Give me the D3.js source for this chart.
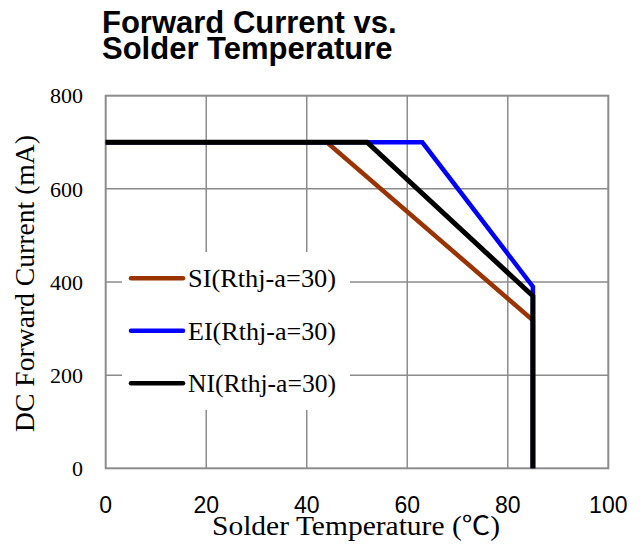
<!DOCTYPE html>
<html>
<head>
<meta charset="utf-8">
<script src="https://cdn.jsdelivr.net/npm/d3@7"></script>
<style>
  body { margin: 0; background: #fff; }
</style>
</head>
<body>
<svg id="my-svg" width="642" height="545"></svg>
<script>
// values
var seriesNames = ["SI(Rthj-a=30)", "EI(Rthj-a=30)", "NI(Rthj-a=30)"];
var seriesColors = ["#993300", "#0000ff", "#000000"];
var siTemp = [0, 44, 85, 85];
var siCurrent = [700, 700, 318, 0];
var eiTemp = [0, 63, 85, 85];
var eiCurrent = [700, 700, 390, 0];
var niTemp = [0, 52, 85, 85];
var niCurrent = [700, 700, 370, 0];
var xTicks = [0, 20, 40, 60, 80, 100];
var yTicks = [0, 200, 400, 600, 800];

var svg = d3.select("#my-svg");

var x = d3.scaleLinear().domain([0, 100]).range([105.7, 608.3]);
var y = d3.scaleLinear().domain([0, 800]).range([468.3, 95.7]);

var gridColor = "#8c8c8c";

// grid
svg.append("g")
  .selectAll("line")
  .data(xTicks.slice(1, -1))
  .enter()
  .append("line")
  .attr("x1", function (d) { return x(d); })
  .attr("x2", function (d) { return x(d); })
  .attr("y1", y(0))
  .attr("y2", y(800))
  .attr("stroke", gridColor)
  .attr("stroke-width", 1.5);

svg.append("g")
  .selectAll("line")
  .data(yTicks.slice(1, -1))
  .enter()
  .append("line")
  .attr("x1", x(0))
  .attr("x2", x(100))
  .attr("y1", function (d) { return y(d); })
  .attr("y2", function (d) { return y(d); })
  .attr("stroke", gridColor)
  .attr("stroke-width", 1.5);

svg.append("rect")
  .attr("x", x(0))
  .attr("y", y(800))
  .attr("width", x(100) - x(0))
  .attr("height", y(0) - y(800))
  .attr("fill", "none")
  .attr("stroke", gridColor)
  .attr("stroke-width", 2);

// curves
var data = [
  { name: seriesNames[0], color: seriesColors[0], temp: siTemp, current: siCurrent },
  { name: seriesNames[1], color: seriesColors[1], temp: eiTemp, current: eiCurrent },
  { name: seriesNames[2], color: seriesColors[2], temp: niTemp, current: niCurrent }
];

var line = d3.line()
  .x(function (d) { return x(d[0]); })
  .y(function (d) { return y(d[1]); });

svg.append("g")
  .selectAll("path")
  .data(data)
  .enter()
  .append("path")
  .attr("d", function (d) { return line(d3.zip(d.temp, d.current)); })
  .attr("fill", "none")
  .attr("stroke", function (d) { return d.color; })
  .attr("stroke-width", function (d, i) { return i == 2 ? 5 : 4.5; });

// legend
var legend = svg.append("g");
legend.append("rect")
  .attr("x", 122)
  .attr("y", 252)
  .attr("width", 228)
  .attr("height", 158)
  .attr("fill", "#fff");

var entry = legend.selectAll("g")
  .data(data)
  .enter()
  .append("g")
  .attr("transform", function (d, i) { return "translate(0," + (278.3 + i * 52.5) + ")"; });

entry.append("line")
  .attr("x1", 131)
  .attr("x2", 183)
  .attr("stroke", function (d) { return d.color; })
  .attr("stroke-width", 4.5)
  .attr("stroke-linecap", "round");

entry.append("text")
  .attr("x", 188)
  .attr("dy", "0.35em")
  .attr("font-family", "Liberation Serif")
  .attr("font-size", 25)
  .attr("textLength", 148)
  .attr("lengthAdjust", "spacingAndGlyphs")
  .text(function (d) { return d.name; });

// tick labels
svg.append("g")
  .selectAll("text")
  .data(yTicks)
  .enter()
  .append("text")
  .attr("x", 83)
  .attr("y", function (d) { return y(d); })
  .attr("dy", "0.35em")
  .attr("text-anchor", "end")
  .attr("font-family", "Liberation Serif")
  .attr("font-size", 22)
  .text(function (d) { return d; });

svg.append("g")
  .selectAll("text")
  .data(xTicks)
  .enter()
  .append("text")
  .attr("x", function (d) { return x(d); })
  .attr("y", 512.5)
  .attr("text-anchor", "middle")
  .attr("font-family", "Liberation Sans")
  .attr("font-size", 23)
  .text(function (d) { return d; });

// axis titles
var xTitle = svg.append("text")
  .attr("x", 356)
  .attr("y", 535)
  .attr("text-anchor", "middle")
  .attr("font-family", "Liberation Serif")
  .attr("font-size", 27)
  .attr("textLength", 288)
  .attr("lengthAdjust", "spacingAndGlyphs");
xTitle.append("tspan").text("Solder Temperature (");
xTitle.append("tspan").attr("font-family", "Noto Sans CJK SC").attr("font-size", 26).text("\u2103");
xTitle.append("tspan").text(")");

svg.append("text")
  .attr("transform", "translate(34,283.5) rotate(-90)")
  .attr("text-anchor", "middle")
  .attr("font-family", "Liberation Serif")
  .attr("font-size", 27.5)
  .attr("textLength", 297)
  .attr("lengthAdjust", "spacingAndGlyphs")
  .text("DC Forward Current (mA)");

// chart title
var title = svg.append("text")
  .attr("font-family", "Liberation Sans")
  .attr("font-weight", "bold")
  .attr("font-size", 31);
title.append("tspan").attr("x", 102).attr("y", 33).text("Forward Current vs.");
title.append("tspan").attr("x", 102).attr("y", 59).text("Solder Temperature");
</script>
</body>
</html>
